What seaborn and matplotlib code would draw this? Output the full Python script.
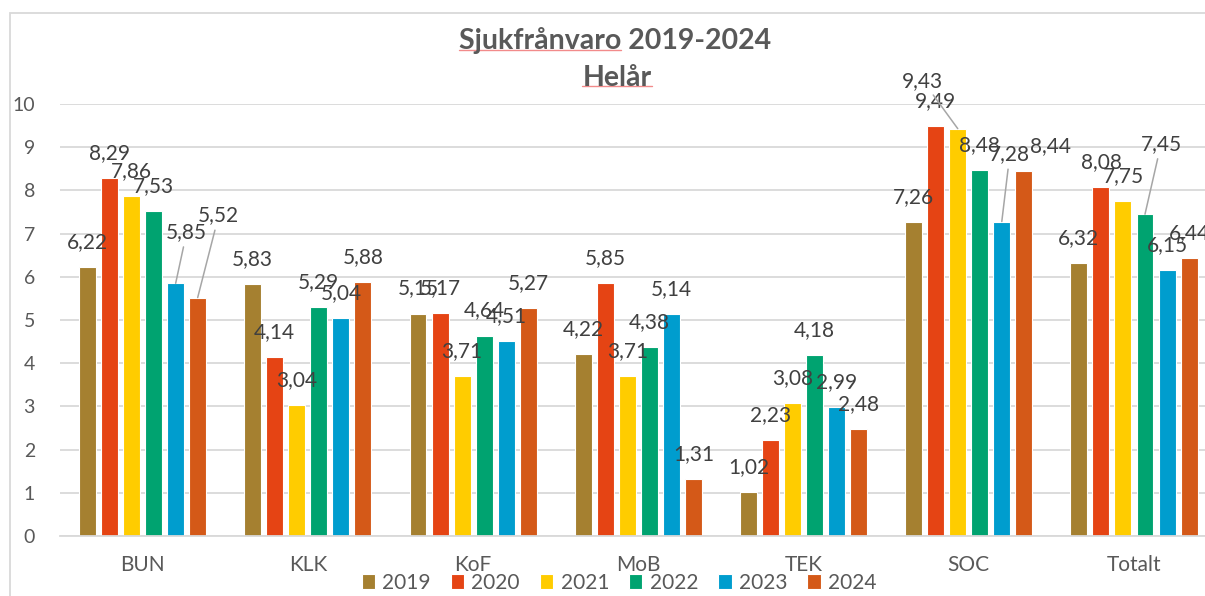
import matplotlib
matplotlib.use("Agg")
import matplotlib.pyplot as plt
import numpy as np
import pandas as pd
import seaborn as sns
from matplotlib.patches import Rectangle
from matplotlib.lines import Line2D

# ------------------------------------------------------------------------------
# Data
# ------------------------------------------------------------------------------
categories = ["BUN", "KLK", "KoF", "MoB", "TEK", "SOC", "Totalt"]
years = ["2019", "2020", "2021", "2022", "2023", "2024"]

values_2019 = [6.22, 5.83, 5.15, 4.22, 1.02, 7.26, 6.32]
values_2020 = [8.29, 4.14, 5.17, 5.85, 2.23, 9.49, 8.08]
values_2021 = [7.86, 3.04, 3.71, 3.71, 3.08, 9.43, 7.75]
values_2022 = [7.53, 5.29, 4.64, 4.38, 4.18, 8.48, 7.45]
values_2023 = [5.85, 5.04, 4.51, 5.14, 2.99, 7.28, 6.15]
values_2024 = [5.52, 5.88, 5.27, 1.31, 2.48, 8.44, 6.44]

year_colors = ["#A58030", "#E54414", "#FFCC00", "#00A370", "#009DCE", "#D45918"]

# Labels that Excel moved away from the bar top: (dx px, dy px, leader line)
label_moves = {
    ("BUN", "2023"): (11, 51, True),
    ("BUN", "2024"): (21, 82, True),
    ("SOC", "2021"): (-35, 48, True),
    ("SOC", "2023"): (8, 67, True),
    ("SOC", "2024"): (27, 25, False),
    ("Totalt", "2022"): (16, 70, True),
}

TEXT = "#404040"
AXIS_TEXT = "#595959"
GRID = "#D9D9D9"

sns.set_theme(style="white")
plt.rcParams["font.family"] = ["Lato", "DejaVu Sans"]

# Long-form table for seaborn
series = [values_2019, values_2020, values_2021, values_2022, values_2023, values_2024]
rows = []
for year, vals in zip(years, series):
    for cat, v in zip(categories, vals):
        rows.append({"category": cat, "year": year, "value": v})
df = pd.DataFrame(rows)

fig = plt.figure(figsize=(12.05, 5.96), dpi=100)
ax = fig.add_axes([60 / 1205, 60 / 596, (1216.6 - 60) / 1205, 432 / 596])

sns.barplot(data=df, x="category", y="value", hue="year", order=categories,
            hue_order=years, palette=year_colors, saturation=1, width=0.8,
            gap=0.23, edgecolor="white", linewidth=0.8, errorbar=None, ax=ax)

ax.set_ylim(0, 10)
ax.set_yticks(np.arange(0, 11, 1))
ax.yaxis.grid(True, color=GRID, linewidth=1.3)
ax.set_axisbelow(True)
for side in ["top", "right", "left"]:
    ax.spines[side].set_visible(False)
ax.spines["bottom"].set_color(GRID)
ax.spines["bottom"].set_linewidth(1.3)
ax.set_xlabel("")
ax.set_ylabel("")
ax.tick_params(axis="y", length=0, pad=18, labelsize=14, labelcolor=AXIS_TEXT)
ax.tick_params(axis="x", length=0, pad=14, labelsize=15, labelcolor=AXIS_TEXT)

# Data labels
for year, container in zip(years, ax.containers):
    for cat, bar in zip(categories, container.patches):
        h = bar.get_height()
        cx = bar.get_x() + bar.get_width() / 2
        dx, dy, leader = label_moves.get((cat, year), (0, 25, False))
        txt = f"{h:.2f}".replace(".", ",")
        arrow = dict(arrowstyle="-", color="#A6A6A6", lw=1.1,
                     shrinkA=1, shrinkB=0) if leader else None
        ax.annotate(txt, xy=(cx, h), xytext=(dx, dy), textcoords="offset pixels",
                    ha="center", va="center", fontsize=15, color=TEXT,
                    arrowprops=arrow, annotation_clip=False)

# Legend at the bottom of the chart area
handles, labels = ax.get_legend_handles_labels()
ax.get_legend().remove()
fig.legend(handles, labels, loc="center", bbox_to_anchor=(619 / 1205, 13 / 596),
           ncol=6, frameon=False, fontsize=15, handlelength=0.65, handleheight=0.7,
           handletextpad=0.35, columnspacing=0.95, labelcolor=AXIS_TEXT,
           borderpad=0)

# Title
t1 = fig.text(615 / 1205, 1 - 41 / 596, "Sjukfrånvaro 2019-2024", ha="center",
              va="center", fontsize=20.5, fontweight="bold", color=AXIS_TEXT)
t2 = fig.text(617 / 1205, 1 - 78 / 596, "Helår", ha="center", va="center",
              fontsize=20.5, fontweight="bold", color=AXIS_TEXT)

# Chart area border (cut off at right and bottom like the reference)
fig.patches.append(Rectangle((10 / 1205, -0.1), 1.2, 1.1 - 13 / 596,
                             transform=fig.transFigure, fill=False,
                             edgecolor=GRID, linewidth=1.3))

# Spell-check squiggles under two title words
fig.canvas.draw()
renderer = fig.canvas.get_renderer()
probe = fig.text(0, 0, "Sjukfrånvaro", fontsize=20.5, fontweight="bold")
word_w = probe.get_window_extent(renderer).width
probe.remove()
bb1 = t1.get_window_extent(renderer)
bb2 = t2.get_window_extent(renderer)
for x0, x1, y in [(bb1.x0, bb1.x0 + word_w, bb1.y0 + 5), (bb2.x0, bb2.x1, bb2.y0 + 5)]:
    fig.lines.append(Line2D([x0 / 1205, x1 / 1205], [y / 596, y / 596],
                            transform=fig.transFigure, color="#F28B8B", lw=1))

fig.savefig("out.png", dpi=100)
